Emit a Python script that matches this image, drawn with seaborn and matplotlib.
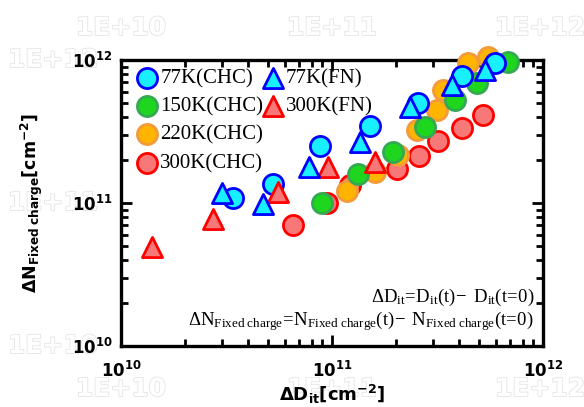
import numpy as np
import pandas as pd
import matplotlib
matplotlib.use("Agg")
import matplotlib.pyplot as plt
import matplotlib.ticker as mticker
import matplotlib.patheffects as pe
import seaborn as sns

# ---- data ----
x_77k_chc = [3.38e10, 5.27e10, 8.77e10, 1.51e11, 2.56e11, 4.12e11, 5.92e11]
y_77k_chc = [1.08e11, 1.35e11, 2.49e11, 3.44e11, 5.02e11, 7.72e11, 9.57e11]

x_150k_chc = [8.94e10, 1.33e11, 1.95e11, 2.76e11, 3.83e11, 4.85e11, 6.83e11]
y_150k_chc = [1.00e11, 1.60e11, 2.27e11, 3.40e11, 5.24e11, 6.86e11, 9.73e11]

x_220k_chc = [1.18e11, 1.60e11, 2.05e11, 2.52e11, 3.13e11, 3.36e11, 4.41e11, 5.49e11]
y_220k_chc = [1.22e11, 1.65e11, 2.15e11, 3.23e11, 4.46e11, 6.16e11, 9.52e11, 1.05e12]

x_300k_chc = [6.56e10, 9.44e10, 1.22e11, 2.03e11, 2.58e11, 3.18e11, 4.12e11, 5.20e11]
y_300k_chc = [7.03e10, 9.97e10, 1.33e11, 1.74e11, 2.12e11, 2.70e11, 3.37e11, 4.11e11]

x_77k_fn = [3.00e10, 4.73e10, 7.80e10, 1.36e11, 2.34e11, 3.69e11, 5.31e11]
y_77k_fn = [1.17e11, 9.87e10, 1.78e11, 2.67e11, 4.70e11, 6.68e11, 8.51e11]

x_300k_fn = [1.40e10, 2.74e10, 5.57e10, 9.61e10, 1.60e11]
y_300k_fn = [4.90e10, 7.75e10, 1.19e11, 1.78e11, 1.93e11]

x_ticks = [1e10, 1e11, 1e12]
y_ticks = [1e10, 1e11, 1e12]
ghost_labels = ["1E+10", "1E+11", "1E+12"]

# ---- fonts ----
plt.rcParams["mathtext.fontset"] = "custom"
plt.rcParams["mathtext.rm"] = "Liberation Serif"
plt.rcParams["mathtext.it"] = "Liberation Serif:italic"
plt.rcParams["mathtext.bf"] = "DejaVu Sans:bold"
plt.rcParams["mathtext.sf"] = "DejaVu Sans"
plt.rcParams["font.family"] = ["DejaVu Sans"]

fig = plt.figure(figsize=(5.84, 4.07), dpi=100)
ax = fig.add_axes([121 / 584, 61 / 407, 422 / 584, 286 / 407])

series = [
    ("300K(CHC)", x_300k_chc, y_300k_chc, "o", "#F87878", "#FF0000", 2),
    ("220K(CHC)", x_220k_chc, y_220k_chc, "o", "#FFB400", "#F39A3A", 3),
    ("150K(CHC)", x_150k_chc, y_150k_chc, "o", "#1ED61E", "#34A853", 4),
    ("77K(CHC)", x_77k_chc, y_77k_chc, "o", "#19F0FF", "#0000FF", 5),
    ("300K(FN)", x_300k_fn, y_300k_fn, "^", "#F87878", "#FF0000", 6),
    ("77K(FN)", x_77k_fn, y_77k_fn, "^", "#19F0FF", "#0000FF", 7),
]

handles = {}
for name, xs, ys, mk, fc, ec, z in series:
    df = pd.DataFrame({"x": xs, "y": ys})
    sns.scatterplot(data=df, x="x", y="y", ax=ax, marker=mk, s=210,
                    color=fc, edgecolor=ec, linewidth=2, zorder=z,
                    clip_on=False, label=name, legend=False)
    handles[name] = ax.collections[-1]

ax.set_xscale("log")
ax.set_yscale("log")
ax.set_xlim(1e10, 1e12)
ax.set_ylim(1e10, 1e12)

fmt = mticker.FuncFormatter(lambda v, p: r"$\mathbf{10^{%d}}$" % int(round(np.log10(v))))
ax.set_xticks(x_ticks)
ax.set_yticks(y_ticks)
ax.xaxis.set_major_formatter(fmt)
ax.yaxis.set_major_formatter(fmt)
ax.xaxis.set_minor_formatter(mticker.NullFormatter())
ax.yaxis.set_minor_formatter(mticker.NullFormatter())
ax.tick_params(which="both", direction="in", top=True, right=True, width=2, labelsize=12)
ax.tick_params(which="major", length=8)
ax.tick_params(which="minor", length=5)
ax.tick_params(axis="y", which="major", pad=6)
ax.tick_params(axis="x", which="major", pad=11)
for sp in ax.spines.values():
    sp.set_linewidth(2.4)

ax.set_xlabel(r"$\mathbf{ΔD_{it}[cm^{-2}]}$", fontsize=13, labelpad=1)
ax.set_ylabel(r"$\mathbf{ΔN_{Fixed\ charge}[cm^{-2}]}$", fontsize=12.5, labelpad=19)

# legends
leg_prop = {"family": "Liberation Serif", "size": 15}
leg_kw = dict(loc="upper left", frameon=False, prop=leg_prop, handletextpad=0.1,
              handlelength=1.1, labelspacing=0.42, borderpad=0.2, borderaxespad=0)
leg1 = ax.legend([handles[n] for n in ["77K(CHC)", "150K(CHC)", "220K(CHC)", "300K(CHC)"]],
                 ["77K(CHC)", "150K(CHC)", "220K(CHC)", "300K(CHC)"],
                 bbox_to_anchor=(0.024, 0.985), **leg_kw)
ax.add_artist(leg1)
leg2 = ax.legend([handles[n] for n in ["77K(FN)", "300K(FN)"]],
                 ["77K(FN)", "300K(FN)"],
                 bbox_to_anchor=(0.322, 0.985), **leg_kw)

# annotations
ax.text(0.979, 0.171, r"$\mathrm{ΔD_{it}\!=\!D_{it}(t)\!-\ D_{it}(t\!=\!0)}$",
        transform=ax.transAxes, ha="right", va="center", fontsize=13.5)
ax.text(0.979, 0.088,
        r"$\mathrm{ΔN_{Fixed\ charge}\!=\!N_{Fixed\ charge}(t)\!-\ N_{Fixed\ charge}(t\!=\!0)}$",
        transform=ax.transAxes, ha="right", va="center", fontsize=13.5)

# faint ghost labels (behind the axes and their tick labels)
ghost_kw = dict(fontsize=18, fontweight="bold", color="white", ha="center", va="center",
                path_effects=[pe.withStroke(linewidth=1.2, foreground="#e4e4e4")], zorder=-5)
for lab, xp in zip(ghost_labels, [121, 332, 540]):
    fig.text(xp / 584, 1 - 28 / 407, lab, **ghost_kw)
    fig.text(xp / 584, 1 - 389 / 407, lab, **ghost_kw)
for lab, yp in zip(ghost_labels, [346, 203, 60]):
    fig.text(53 / 584, 1 - yp / 407, lab, **ghost_kw)

fig.savefig("out.png", dpi=100)
